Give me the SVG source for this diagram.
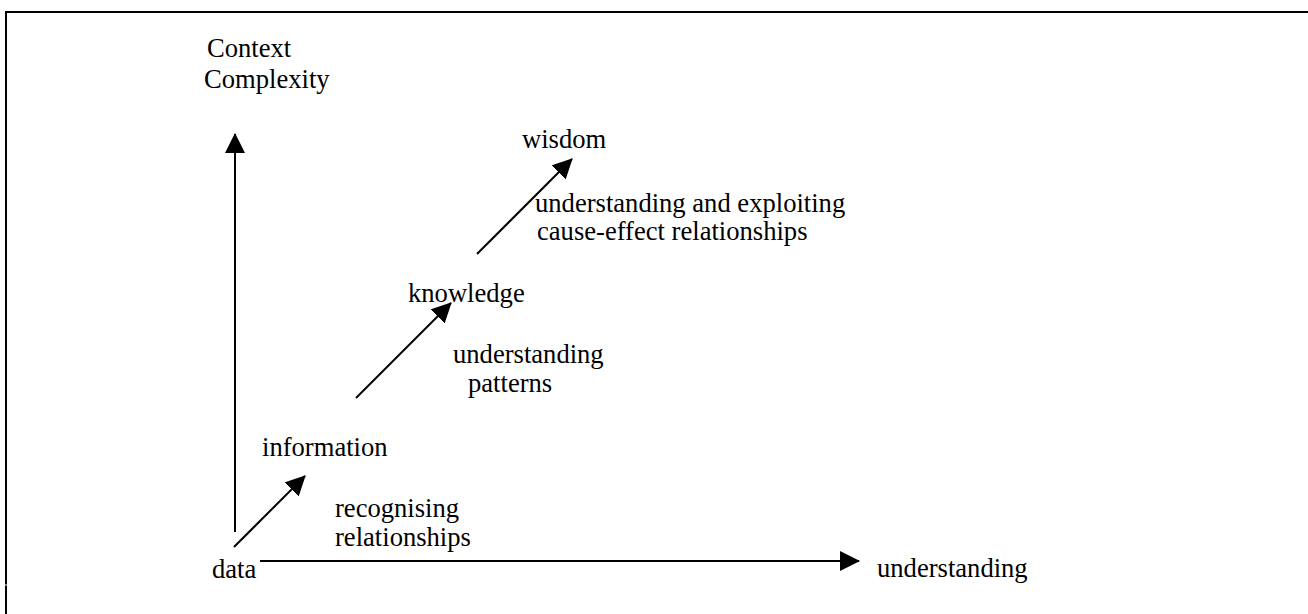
<svg xmlns="http://www.w3.org/2000/svg" width="1308" height="614" viewBox="0 0 1308 614">
  <style>
    .t { font-family: "Liberation Serif", "Times New Roman", serif; font-size: 26.6px; fill: #000; }
    .c { stroke: #000; stroke-width: 2; fill: none; }
    .frame { stroke: #000; stroke-width: 2; fill: none; }
  </style>
  <defs>
    <marker id="ah" markerUnits="userSpaceOnUse" markerWidth="20" markerHeight="20" refX="19" refY="10" orient="auto">
      <path d="M0,0 L20,10 L0,20 Z" fill="#000"/>
    </marker>
  </defs>
  <rect width="1308" height="614" fill="#fff"/>
  <g id="frame">
    <line class="frame" x1="5" y1="12" x2="1308" y2="12"/>
    <line class="frame" x1="6" y1="11" x2="6" y2="584.5"/>
    <line class="frame" x1="6" y1="585.5" x2="6" y2="614"/>
  </g>
  <g id="connectors">
    <line class="c" x1="235" y1="532" x2="235" y2="134" marker-end="url(#ah)"/>
    <line class="c" x1="260" y1="561" x2="859" y2="561" marker-end="url(#ah)"/>
    <line class="c" x1="234" y1="547" x2="305" y2="476" marker-end="url(#ah)"/>
    <line class="c" x1="356" y1="398" x2="451" y2="303" marker-end="url(#ah)"/>
    <line class="c" x1="477" y1="254" x2="572" y2="159" marker-end="url(#ah)"/>
  </g>
  <g id="axis-y">
    <text class="t" x="207" y="57">Context</text>
    <text class="t" x="204" y="88">Complexity</text>
  </g>
  <g id="axis-x">
    <text class="t" x="877" y="577">understanding</text>
  </g>
  <g id="data"><text class="t" x="212" y="578">data</text></g>
  <g id="information"><text class="t" x="262" y="456">information</text></g>
  <g id="knowledge"><text class="t" x="408" y="302">knowledge</text></g>
  <g id="wisdom"><text class="t" x="522" y="148">wisdom</text></g>
  <g id="label-recognising">
    <text class="t" x="335" y="517">recognising</text>
    <text class="t" x="335" y="546">relationships</text>
  </g>
  <g id="label-patterns">
    <text class="t" x="453" y="363">understanding</text>
    <text class="t" x="468" y="392">patterns</text>
  </g>
  <g id="label-cause">
    <text class="t" x="535" y="212">understanding and exploiting</text>
    <text class="t" x="537" y="240">cause-effect relationships</text>
  </g>
</svg>
